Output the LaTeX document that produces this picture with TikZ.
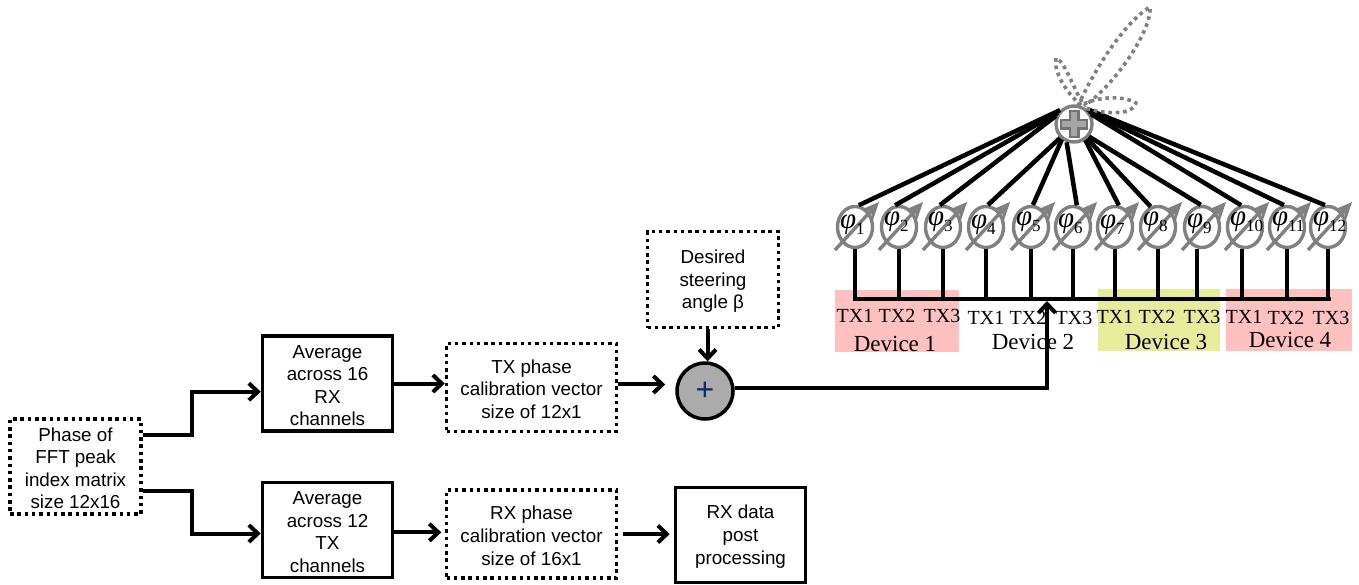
\documentclass[tikz,border=0pt]{standalone}
\usepackage{fontspec}
\setmainfont{Liberation Sans}
\newfontfamily\txfont{Liberation Serif}
\usetikzlibrary{arrows.meta}
\usetikzlibrary{calc}
\usetikzlibrary{shapes.geometric}
\colorlet{mygray}{black!50}
\definecolor{mypink}{RGB}{255,192,192}
\definecolor{myyellow}{RGB}{230,236,155}
\definecolor{mydarkblue}{RGB}{16,42,110}
\newcommand\tb{\rule{0pt}{17pt}}
\tikzset{>={Straight Barb[length=9,width=17]}}
\tikzstyle{box}=[draw,line width=3.5,align=center,inner sep=0,
                 font=\fontsize{18.8}{22.6}\selectfont]
\tikzstyle{dotbox}=[box,dash pattern=on 3.5 off 3.8]
\tikzstyle{flow}=[line width=4,->]
\tikzstyle{wire}=[line width=4.5]
\tikzstyle{lobe}=[mygray,line width=3.6,dash pattern=on 3.6 off 3.8,line join=round]
\tikzset{
  shifter/.style={draw=mygray,fill=white,line width=3.4,ellipse,inner sep=0,
                  minimum width=35,minimum height=41},
  phase arrow/.style={mygray,line width=3.4,-{Stealth[open,length=18,width=16]}},
  txlabel/.style={font=\txfont\fontsize{20}{24}\selectfont,inner sep=0},
  devlabel/.style={font=\txfont\fontsize{23}{24}\selectfont,inner sep=0}
}
\begin{document}
\begin{tikzpicture}[x=1pt,y=-1pt]
  \useasboundingbox (0,0) rectangle (1359,584);
  \coordinate (BL) at (853,299);
  \coordinate (BR) at (1331,299);
  \coordinate (hit) at (1047,301);

  % DEVICE AREAS
  \fill[mypink] (835,290) rectangle (959,352);
  \fill[myyellow] (1098,289) rectangle (1220,351);
  \fill[mypink] (1226,289) rectangle (1352,351);

  % BLOCKS
  \node[dotbox,minimum width=131,minimum height=95] (phase) at (75.5,466.5)
    {\tb Phase of\\FFT peak\\index matrix\\size 12x16};
  \node[box,minimum width=130,minimum height=95] (avgrx) at (327.5,383.5)
    {\tb Average\\across 16\\RX\\channels};
  \node[box,minimum width=130,minimum height=95] (avgtx) at (327.5,530)
    {\tb Average\\across 12\\TX\\channels};
  \node[dotbox,minimum width=170,minimum height=88] (txcal) at (531.5,387.5)
    {\tb TX phase\\calibration vector\\size of 12x1};
  \node[dotbox,minimum width=170,minimum height=88] (rxcal) at (531.5,534)
    {\tb RX phase\\calibration vector\\size of 16x1};
  \node[dotbox,minimum width=131,minimum height=96] (steer) at (713,279.5)
    {\tb Desired\\steering\\angle β};
  \node[box,minimum width=130,minimum height=95] (post) at (740.5,535)
    {\tb RX data\\post\\processing};
  \node[circle,draw,fill=black!33,line width=3.5,minimum size=56,inner sep=0,
        text=mydarkblue,font=\fontsize{32}{32}\selectfont] (add) at (705,391) {\raisebox{-5pt}{+}};

  % PHASE SHIFTERS
  \foreach \i/\x/\y in {1/855/225,2/899/222,3/943/222,4/986/225,5/1031/222,6/1073/224,
                        7/1115/225,8/1158/222,9/1202/224,10/1245/222,11/1287/222,12/1328/222}{
    \node[shifter] (phi\i) at (\x,227) {};
    \draw[phase arrow] ($(phi\i)+(-20,23)$) -- ($(phi\i)+(24,-25)$);
    \node[inner sep=0] (lab\i) at (\x,\y)
      {\makebox[0pt][l]{\hspace{-15pt}{\txfont\itshape\fontsize{29}{29}\selectfont φ}\raisebox{-6pt}{\txfont\fontsize{17}{17}\selectfont\i}}};
  }

  % SUMMER
  \node[circle,draw=mygray,fill=white,line width=3.4,minimum size=36,inner sep=0] (sum) at (1074,124) {};
  \draw[black!55,line width=11] (1060,124) -- (1088,124) (1074,110) -- (1074,138);
  \draw[black!35,line width=6] (1062,124) -- (1086,124) (1074,112) -- (1074,136);

  % LINES
  \foreach \i/\a/\b in {1/135/80,2/145/100,3/155/98,4/225/85,5/232/85,6/248/80,
                        7/305/80,8/312/110,9/320/93,10/30/100,11/40/98,12/50/98}{
    \draw[wire] (sum.\a) -- (phi\i.\b);
  }
  \foreach \i/\c in {1/270,2/270,3/270,4/270,5/270,6/270,7/270,8/270,9/258,10/262,11/270,12/270}{
    \draw[line width=4] (phi\i.\c) -- (phi\i.\c |- BL);
  }
  \draw[wire] (BL) -- (BR);

  % TX LABELS
  \foreach \i/\t/\x/\y in {a/1/855/316,b/2/897/316,c/3/942/316,
                           d/1/986/318,e/2/1028/318,f/3/1074/318,
                           g/1/1115/317,h/2/1157/317,j/3/1202/317,
                           k/1/1244/317,m/2/1286/318,n/3/1331/318}{
    \node[txlabel] (tx\i) at (\x,\y) {TX\t};
  }
  \node[devlabel] (dev1) at (895,343.5) {Device 1};
  \node[devlabel] (dev2) at (1033,341.5) {Device 2};
  \node[devlabel] (dev3) at (1166,341.5) {Device 3};
  \node[devlabel] (dev4) at (1290,340) {Device 4};

  % ARROWS
  \draw[flow] (phase.25) -- ++(49,0) |- (avgrx.187);
  \draw[flow] (phase.-20) -- ++(49,0) |- (avgtx.183);
  \draw[flow] (avgrx.east) -- (avgrx.east -| txcal.west);
  \draw[flow] (avgtx.-2) -- ++(47,0);
  \draw[flow,shorten >=10] (txcal.2) -- (txcal.2 -| add.west);
  \draw[flow,shorten <=5,shorten >=4] (rxcal.east) -- (rxcal.east -| post.west);
  \draw[flow] (steer.south -| add.85) -- (add.85);
  \draw[flow] (add.6) -| (hit);

  % BEAM
  \draw[lobe] (1078,106) .. controls (1095,68) and (1125,22) .. (1150,7)
    .. controls (1152,30) and (1115,85) .. (1084,106);
  \draw[lobe] (1082,102) .. controls (1072,85) and (1065,62) .. (1056,58)
    .. controls (1053,70) and (1065,92) .. (1082,106);
  \draw[lobe] (1084,104) .. controls (1100,96) and (1125,96) .. (1136,103)
    .. controls (1132,116) and (1105,114) .. (1084,108);
\end{tikzpicture}
\end{document}
